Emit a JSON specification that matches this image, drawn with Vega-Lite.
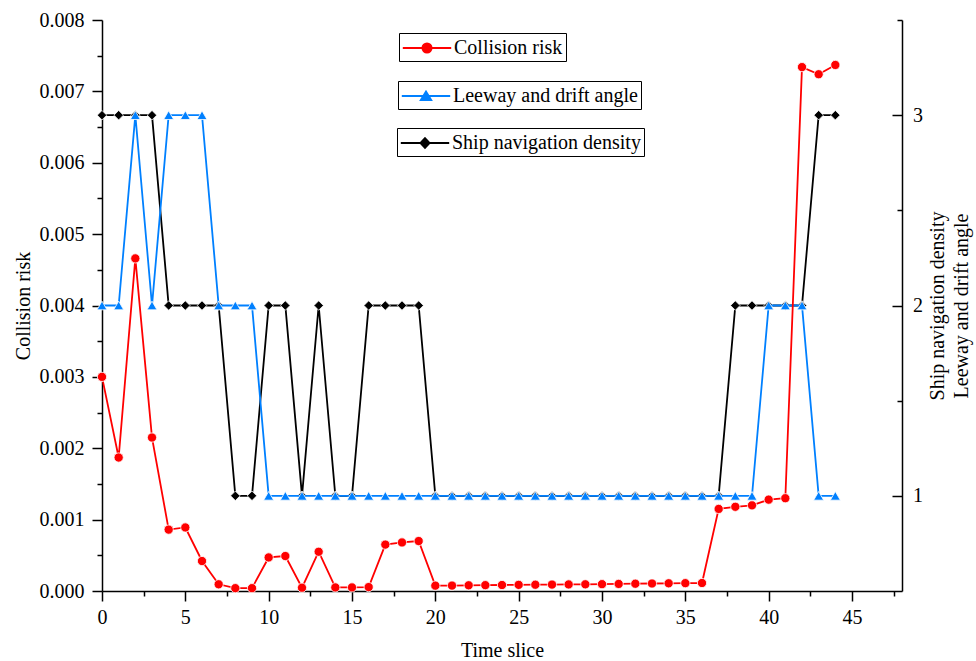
{
  "$schema": "https://vega.github.io/schema/vega-lite/v6.json",
  "width": 800,
  "height": 571,
  "autosize": {"type": "none"},
  "padding": {"left": 102, "top": 20, "right": 74, "bottom": 70},
  "background": "white",
  "config": {
    "font": "Liberation Serif",
    "view": {"stroke": null},
    "axis": {
      "labelFont": "Liberation Serif", "labelFontSize": 20, "labelColor": "black",
      "titleFont": "Liberation Serif", "titleFontSize": 20, "titleFontWeight": "normal", "titleColor": "black",
      "domainColor": "black", "domainWidth": 1.5, "tickColor": "black", "tickWidth": 1.5,
      "grid": false, "labelOverlap": false, "labelFlush": false
    },
    "legend": {
      "orient": "none", "title": null,
      "labelFont": "Liberation Serif", "labelFontSize": 20, "labelColor": "black", "labelLimit": 400,
      "strokeColor": "black", "padding": 3,
      "symbolSize": 484, "symbolOffset": 13, "labelOffset": 15, "symbolStrokeWidth": 1.8
    }
  },
  "data": {
    "values": [
      {"t": 0, "risk": 0.0030, "leeway": 2, "density": 3},
      {"t": 1, "risk": 0.00187, "leeway": 2, "density": 3},
      {"t": 2, "risk": 0.00466, "leeway": 3, "density": 3},
      {"t": 3, "risk": 0.00215, "leeway": 2, "density": 3},
      {"t": 4, "risk": 0.00086, "leeway": 3, "density": 2},
      {"t": 5, "risk": 0.00089, "leeway": 3, "density": 2},
      {"t": 6, "risk": 0.00042, "leeway": 3, "density": 2},
      {"t": 7, "risk": 0.000094, "leeway": 2, "density": 2},
      {"t": 8, "risk": 0.00004, "leeway": 2, "density": 1},
      {"t": 9, "risk": 0.00004, "leeway": 2, "density": 1},
      {"t": 10, "risk": 0.00047, "leeway": 1, "density": 2},
      {"t": 11, "risk": 0.00049, "leeway": 1, "density": 2},
      {"t": 12, "risk": 0.000046, "leeway": 1, "density": 1},
      {"t": 13, "risk": 0.00055, "leeway": 1, "density": 2},
      {"t": 14, "risk": 0.00005, "leeway": 1, "density": 1},
      {"t": 15, "risk": 0.00005, "leeway": 1, "density": 1},
      {"t": 16, "risk": 0.000055, "leeway": 1, "density": 2},
      {"t": 17, "risk": 0.00065, "leeway": 1, "density": 2},
      {"t": 18, "risk": 0.00068, "leeway": 1, "density": 2},
      {"t": 19, "risk": 0.0007, "leeway": 1, "density": 2},
      {"t": 20, "risk": 0.000075, "leeway": 1, "density": 1},
      {"t": 21, "risk": 0.000076, "leeway": 1, "density": 1},
      {"t": 22, "risk": 0.00008, "leeway": 1, "density": 1},
      {"t": 23, "risk": 0.000082, "leeway": 1, "density": 1},
      {"t": 24, "risk": 0.000084, "leeway": 1, "density": 1},
      {"t": 25, "risk": 0.000086, "leeway": 1, "density": 1},
      {"t": 26, "risk": 0.000088, "leeway": 1, "density": 1},
      {"t": 27, "risk": 0.00009, "leeway": 1, "density": 1},
      {"t": 28, "risk": 0.000092, "leeway": 1, "density": 1},
      {"t": 29, "risk": 0.000094, "leeway": 1, "density": 1},
      {"t": 30, "risk": 0.000096, "leeway": 1, "density": 1},
      {"t": 31, "risk": 0.000099, "leeway": 1, "density": 1},
      {"t": 32, "risk": 0.000102, "leeway": 1, "density": 1},
      {"t": 33, "risk": 0.000105, "leeway": 1, "density": 1},
      {"t": 34, "risk": 0.000108, "leeway": 1, "density": 1},
      {"t": 35, "risk": 0.00011, "leeway": 1, "density": 1},
      {"t": 36, "risk": 0.000112, "leeway": 1, "density": 1},
      {"t": 37, "risk": 0.00115, "leeway": 1, "density": 1},
      {"t": 38, "risk": 0.00118, "leeway": 1, "density": 2},
      {"t": 39, "risk": 0.0012, "leeway": 1, "density": 2},
      {"t": 40, "risk": 0.00128, "leeway": 2, "density": 2},
      {"t": 41, "risk": 0.0013, "leeway": 2, "density": 2},
      {"t": 42, "risk": 0.00734, "leeway": 2, "density": 2},
      {"t": 43, "risk": 0.00724, "leeway": 1, "density": 3},
      {"t": 44, "risk": 0.00737, "leeway": 1, "density": 3}
    ]
  },
  "encoding": {
    "x": {
      "field": "t", "type": "quantitative",
      "scale": {"domain": [0, 48], "nice": false, "zero": false},
      "axis": {
        "title": "Time slice",
        "values": [0, 2.5, 5, 7.5, 10, 12.5, 15, 17.5, 20, 22.5, 25, 27.5, 30, 32.5, 35, 37.5, 40, 42.5, 45, 47.5],
        "labelExpr": "datum.value % 5 === 0 ? datum.label : ''",
        "tickSize": {"condition": {"test": "datum.value % 5 === 0", "value": 10}, "value": 5},
        "labelPadding": 6,
        "titlePadding": 13
      }
    }
  },
  "layer": [
    {
      "layer": [
        {
          "mark": {"type": "line", "strokeWidth": 1.8},
          "encoding": {
            "y": {"field": "density", "type": "quantitative", "scale": {"domain": [0.5, 3.5], "nice": false, "zero": false},
              "axis": {"orient": "right", "title": ["Ship navigation density", "Leeway and drift angle"], "titleAngle": 270,
                "titleX": 25, "titleY": 285.5, "titleAlign": "center", "titleBaseline": "top", "titleLineHeight": 24,
                "values": [1, 1.5, 2, 2.5, 3, 3.5],
                "labelExpr": "datum.value % 1 === 0 ? format(datum.value, 'd') : ''",
                "tickSize": {"condition": {"test": "datum.value % 1 === 0", "value": -10}, "value": -5},
                "labelPadding": 20.5}},
            "color": {"datum": "Ship navigation density", "type": "nominal", "scale": {"range": ["#000000"]},
              "legend": {"legendX": 295, "legendY": 108,
                "symbolType": "M-2.2,0L2.2,0M0,-0.45L0.42,0L0,0.45L-0.42,0Z",
                "encode": {"symbols": {"update": {"fill": {"value": "#000000"}, "stroke": {"value": "#000000"}, "size": {"value": 484}, "strokeWidth": {"value": 1.8}}}}}}
          }
        },
        {
          "mark": {"type": "point", "filled": true, "shape": "diamond", "size": 90, "color": "#000000", "stroke": "white", "strokeWidth": 0.8, "opacity": 1},
          "encoding": {
            "y": {"field": "density", "type": "quantitative", "scale": {"domain": [0.5, 3.5], "nice": false, "zero": false},
              "axis": {"orient": "right", "title": ["Ship navigation density", "Leeway and drift angle"], "titleAngle": 270,
                "titleX": 25, "titleY": 285.5, "titleAlign": "center", "titleBaseline": "top", "titleLineHeight": 24,
                "values": [1, 1.5, 2, 2.5, 3, 3.5],
                "labelExpr": "datum.value % 1 === 0 ? format(datum.value, 'd') : ''",
                "tickSize": {"condition": {"test": "datum.value % 1 === 0", "value": -10}, "value": -5},
                "labelPadding": 20.5}}
          }
        },
        {
          "mark": {"type": "line", "strokeWidth": 1.8},
          "encoding": {
            "y": {"field": "leeway", "type": "quantitative", "scale": {"domain": [0.5, 3.5], "nice": false, "zero": false},
              "axis": {"orient": "right", "title": ["Ship navigation density", "Leeway and drift angle"], "titleAngle": 270,
                "titleX": 25, "titleY": 285.5, "titleAlign": "center", "titleBaseline": "top", "titleLineHeight": 24,
                "values": [1, 1.5, 2, 2.5, 3, 3.5],
                "labelExpr": "datum.value % 1 === 0 ? format(datum.value, 'd') : ''",
                "tickSize": {"condition": {"test": "datum.value % 1 === 0", "value": -10}, "value": -5},
                "labelPadding": 20.5}},
            "color": {"datum": "Leeway and drift angle", "type": "nominal", "scale": {"range": ["#0080FF"]},
              "legend": {"legendX": 296, "legendY": 61,
                "symbolType": "M-2.2,0L2.2,0M0,-0.42L0.48,0.38L-0.48,0.38Z",
                "encode": {"symbols": {"update": {"fill": {"value": "#0080FF"}, "stroke": {"value": "#0080FF"}, "size": {"value": 484}, "strokeWidth": {"value": 1.8}}}}}}
          }
        },
        {
          "mark": {"type": "point", "filled": true, "shape": "triangle-up", "size": 100, "color": "#0080FF", "stroke": "white", "strokeWidth": 0.8, "opacity": 1},
          "encoding": {
            "y": {"field": "leeway", "type": "quantitative", "scale": {"domain": [0.5, 3.5], "nice": false, "zero": false},
              "axis": {"orient": "right", "title": ["Ship navigation density", "Leeway and drift angle"], "titleAngle": 270,
                "titleX": 25, "titleY": 285.5, "titleAlign": "center", "titleBaseline": "top", "titleLineHeight": 24,
                "values": [1, 1.5, 2, 2.5, 3, 3.5],
                "labelExpr": "datum.value % 1 === 0 ? format(datum.value, 'd') : ''",
                "tickSize": {"condition": {"test": "datum.value % 1 === 0", "value": -10}, "value": -5},
                "labelPadding": 20.5}}
          }
        }
      ],
      "resolve": {"scale": {"color": "independent"}, "legend": {"color": "independent"}}
    },
    {
      "layer": [
        {
          "mark": {"type": "line", "strokeWidth": 1.8},
          "encoding": {
            "y": {"field": "risk", "type": "quantitative", "scale": {"domain": [0, 0.008], "nice": false, "zero": false},
              "axis": {"orient": "left", "title": "Collision risk",
                "values": [0, 0.0005, 0.001, 0.0015, 0.002, 0.0025, 0.003, 0.0035, 0.004, 0.0045, 0.005, 0.0055, 0.006, 0.0065, 0.007, 0.0075, 0.008],
                "labelExpr": "round(datum.value * 10000) % 10 === 0 ? format(datum.value, '.3f') : ''",
                "tickSize": {"condition": {"test": "round(datum.value * 10000) % 10 === 0", "value": 10}, "value": 5},
                "labelPadding": 8, "titlePadding": 6}},
            "color": {"datum": "Collision risk", "type": "nominal", "scale": {"range": ["#FF0000"]},
              "legend": {"legendX": 297, "legendY": 13,
                "symbolType": "M-2.2,0L2.2,0M0.42,0A0.42,0.42 0 1,1 -0.42,0A0.42,0.42 0 1,1 0.42,0Z",
                "encode": {"symbols": {"update": {"fill": {"value": "#FF0000"}, "stroke": {"value": "#FF0000"}, "size": {"value": 484}, "strokeWidth": {"value": 1.8}}}}}}
          }
        },
        {
          "mark": {"type": "point", "filled": true, "shape": "circle", "size": 85, "color": "#FF0000", "stroke": "white", "strokeWidth": 0.8, "opacity": 1},
          "encoding": {
            "y": {"field": "risk", "type": "quantitative", "scale": {"domain": [0, 0.008], "nice": false, "zero": false},
              "axis": {"orient": "left", "title": "Collision risk",
                "values": [0, 0.0005, 0.001, 0.0015, 0.002, 0.0025, 0.003, 0.0035, 0.004, 0.0045, 0.005, 0.0055, 0.006, 0.0065, 0.007, 0.0075, 0.008],
                "labelExpr": "round(datum.value * 10000) % 10 === 0 ? format(datum.value, '.3f') : ''",
                "tickSize": {"condition": {"test": "round(datum.value * 10000) % 10 === 0", "value": 10}, "value": 5},
                "labelPadding": 8, "titlePadding": 6}}
          }
        }
      ]
    }
  ],
  "resolve": {"scale": {"y": "independent", "color": "independent"}, "legend": {"color": "independent"}}
}
